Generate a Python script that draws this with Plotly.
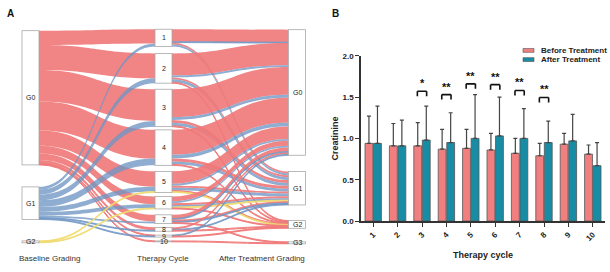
import plotly.graph_objects as go

# ---------------- Panel A data (alluvial / sankey) ----------------
baseline_grades = ["G0", "G1", "G2"]
therapy_cycles = ["1", "2", "3", "4", "5", "6", "7", "8", "9", "10"]
after_grades = ["G0", "G1", "G2", "G3"]

flow_baseline = ["G0", "G0", "G1", "G1",
                 "G0", "G0", "G0", "G1", "G1",
                 "G0", "G0", "G0", "G1", "G1",
                 "G0", "G0", "G0", "G1", "G1",
                 "G0", "G0", "G0", "G1", "G1", "G2",
                 "G0", "G0", "G0", "G1", "G1", "G2",
                 "G0", "G0", "G0", "G1", "G1",
                 "G0", "G0", "G1",
                 "G0", "G1",
                 "G0"]
flow_cycle = ["1", "1", "1", "1",
              "2", "2", "2", "2", "2",
              "3", "3", "3", "3", "3",
              "4", "4", "4", "4", "4",
              "5", "5", "5", "5", "5", "5",
              "6", "6", "6", "6", "6", "6",
              "7", "7", "7", "7", "7",
              "8", "8", "8",
              "9", "9",
              "10"]
flow_after = ["G0", "G1", "G0", "G1",
              "G0", "G1", "G2", "G0", "G1",
              "G0", "G1", "G2", "G0", "G1",
              "G0", "G1", "G2", "G0", "G1",
              "G0", "G1", "G2", "G0", "G1", "G2",
              "G0", "G1", "G2", "G0", "G1", "G1",
              "G0", "G1", "G3", "G0", "G1",
              "G0", "G2", "G1",
              "G2", "G0",
              "G3"]
flow_count = [13, 2, 1, 2,
              23, 2, 1, 2, 3,
              29, 3, 1, 3, 3,
              26, 3, 1, 4, 3,
              13, 2, 1, 2, 3, 1,
              5, 2, 1, 2, 2, 1,
              4, 2, 1, 1, 1,
              2, 1, 1,
              1, 1,
              1]

# ---------------- Panel B data (bar chart) ----------------
bar_cycles = ["1", "2", "3", "4", "5", "6", "7", "8", "9", "10"]
before_mean = [0.94, 0.91, 0.91, 0.87, 0.88, 0.86, 0.82, 0.79, 0.93, 0.81]
before_sd = [0.33, 0.27, 0.28, 0.24, 0.23, 0.20, 0.18, 0.15, 0.13, 0.11]
after_mean = [0.94, 0.91, 0.98, 0.95, 1.00, 1.03, 1.00, 0.95, 0.97, 0.67]
after_sd = [0.45, 0.31, 0.41, 0.36, 0.53, 0.47, 0.36, 0.26, 0.32, 0.28]
series_names = ["Before Treatment", "After Treatment"]
sig_cycles = ["3", "4", "5", "6", "7", "8"]
sig_marks = ["*", "**", "**", "**", "**", "**"]
sig_levels = [1.57, 1.53, 1.66, 1.65, 1.58, 1.495]

# ---------------- layout helpers ----------------
W, H = 610, 272
def px(x):
    return x / W
def py(y):
    return 1 - y / H

FONT = "Liberation Sans, Arial, sans-serif"
grade_colors = {"G0": "rgba(240,122,122,0.92)",
                "G1": "rgba(112,150,196,0.78)",
                "G2": "rgba(240,218,110,0.85)"}

# sankey frame in pixels
SX0, SX1, SY0, SY1 = 22, 305, 26, 247
col_x_px = [30.5, 163.5, 297]
left_y_px = [97, 206, 246]
mid_y_px = [35, 66.5, 107.5, 148.5, 184, 205.5, 222.5, 233, 240, 245.5]
right_y_px = [91.5, 190.5, 228, 247]

n_left, n_mid, n_right = len(baseline_grades), len(therapy_cycles), len(after_grades)
left_idx = {g: i for i, g in enumerate(baseline_grades)}
mid_idx = {c: n_left + i for i, c in enumerate(therapy_cycles)}
right_idx = {g: n_left + n_mid + i for i, g in enumerate(after_grades)}

node_x = ([(col_x_px[0] - SX0) / (SX1 - SX0)] * n_left +
          [(col_x_px[1] - SX0) / (SX1 - SX0)] * n_mid +
          [(col_x_px[2] - SX0) / (SX1 - SX0)] * n_right)
node_y = [(y - SY0) / (SY1 - SY0) for y in left_y_px + mid_y_px + right_y_px]

# aggregate links
left_links = {}
for b, c, a, n in zip(flow_baseline, flow_cycle, flow_after, flow_count):
    left_links[(b, c)] = left_links.get((b, c), 0) + n
right_links = {}
for b, c, a, n in zip(flow_baseline, flow_cycle, flow_after, flow_count):
    right_links[(c, a, b)] = right_links.get((c, a, b), 0) + n

src, tgt, val, col = [], [], [], []
for b in baseline_grades:
    for c in therapy_cycles:
        if (b, c) in left_links:
            src.append(left_idx[b]); tgt.append(mid_idx[c])
            val.append(left_links[(b, c)]); col.append(grade_colors[b])
for c in therapy_cycles:
    for a in after_grades:
        for b in baseline_grades:
            if (c, a, b) in right_links:
                src.append(mid_idx[c]); tgt.append(right_idx[a])
                val.append(right_links[(c, a, b)]); col.append(grade_colors[b])

fig = go.Figure()
fig.add_trace(go.Sankey(
    domain=dict(x=[px(SX0), px(SX1)], y=[py(SY1), py(SY0)]),
    arrangement="fixed",
    hoverinfo="none",
    node=dict(label=[""] * (n_left + n_mid + n_right), x=node_x, y=node_y,
              pad=5, thickness=17, color="white",
              line=dict(color="#a8a8a8", width=0.8)),
    link=dict(source=src, target=tgt, value=val, color=col),
))

annotations = []
def add_text(x, y, text, size, color="#222", bold=False, xanchor="center", xref="paper", yref="paper",
             yanchor="middle"):
    f = dict(family=FONT, size=size, color=color)
    if bold:
        f["weight"] = "bold"
    annotations.append(dict(x=x, y=y, xref=xref, yref=yref, text=text, showarrow=False,
                            xanchor=xanchor, yanchor=yanchor, font=f))

# node labels
for names, ys, xc in [(baseline_grades, left_y_px, col_x_px[0]),
                      (therapy_cycles, mid_y_px, col_x_px[1]),
                      (after_grades, right_y_px, col_x_px[2])]:
    for name, y in zip(names, ys):
        add_text(px(xc), py(y), name, 7)
# column titles
for t, xc in [("Baseline Grading", 50), ("Therapy Cycle", 163), ("After Treatment Grading", 262)]:
    add_text(px(xc), py(263), t, 8, color="#333")
# panel labels
for t, xc in [("A", 10), ("B", 335)]:
    add_text(px(xc), py(10), t, 10, color="#111", bold=True)

# ---------------- bars ----------------
xnum = [int(c) for c in bar_cycles]
fig.add_trace(go.Bar(
    x=xnum, y=before_mean, name=series_names[0], xaxis="x", yaxis="y", showlegend=False,
    marker=dict(color="#F27F7F", line=dict(color="#555", width=0.8)),
    error_y=dict(type="data", symmetric=False, array=before_sd, arrayminus=[0] * len(before_sd),
                 color="#444", thickness=1.2, width=2)))
fig.add_trace(go.Bar(
    x=xnum, y=after_mean, name=series_names[1], xaxis="x", yaxis="y", showlegend=False,
    marker=dict(color="#178CA4", line=dict(color="#555", width=0.8)),
    error_y=dict(type="data", symmetric=False, array=after_sd, arrayminus=[0] * len(after_sd),
                 color="#444", thickness=1.2, width=2)))

shapes = []
half = 0.19
tick = 0.06
for c, m, lv in zip(sig_cycles, sig_marks, sig_levels):
    xc = int(c)
    for (x0, y0, x1, y1) in [(xc - half, lv, xc + half, lv),
                             (xc - half, lv - tick, xc - half, lv),
                             (xc + half, lv - tick, xc + half, lv)]:
        shapes.append(dict(type="line", xref="x", yref="y", x0=x0, y0=y0, x1=x1, y1=y1,
                           line=dict(color="#111", width=1.6)))
    add_text(xc, lv, m, 11, color="#111", bold=True, xref="x", yref="y", yanchor="bottom")

# manual legend
legend_colors = ["#F27F7F", "#178CA4"]
for i, (name, c) in enumerate(zip(series_names, legend_colors)):
    yc = 48 + i * 9.5
    shapes.append(dict(type="rect", xref="paper", yref="paper",
                       x0=px(523), x1=px(534), y0=py(yc + 2), y1=py(yc - 2),
                       fillcolor=c, line=dict(color="#555", width=0.6)))
    add_text(px(539), py(yc), name, 8, bold=True, xanchor="left")

fig.update_layout(
    width=W, height=H, margin=dict(l=0, r=0, t=0, b=0),
    paper_bgcolor="white", plot_bgcolor="white",
    font=dict(family=FONT, color="#222"),
    barmode="group", bargap=0.3, bargroupgap=0.08,
    showlegend=False,
    xaxis=dict(domain=[px(361), px(605)], anchor="y", range=[0.5, 10.5],
               tickvals=xnum, ticktext=bar_cycles, tickangle=-45,
               showline=True, linecolor="#333", linewidth=1.5,
               ticks="outside", ticklen=4, tickwidth=1.2, tickcolor="#333",
               showgrid=False, zeroline=False,
               tickfont=dict(family=FONT, size=8, color="#222", weight="bold"),
               title=dict(text="Therapy cycle", standoff=10,
                          font=dict(family=FONT, size=9, color="#222", weight="bold"))),
    yaxis=dict(domain=[py(224.5), py(53.5)], anchor="x", range=[0, 2.0],
               dtick=0.5, tickformat=".1f",
               showline=True, linecolor="#333", linewidth=1.5,
               ticks="outside", ticklen=4, tickwidth=1.2, tickcolor="#333",
               showgrid=False, zeroline=False,
               tickfont=dict(family=FONT, size=8, color="#222", weight="bold"),
               title=dict(text="Creatinine", standoff=2,
                          font=dict(family=FONT, size=9, color="#222", weight="bold"))),
    shapes=shapes, annotations=annotations,
)

fig.write_html("out.html", config={"displayModeBar": False},
               post_script="document.body.style.margin='0';document.body.style.padding='0';document.body.style.overflow='hidden';")
